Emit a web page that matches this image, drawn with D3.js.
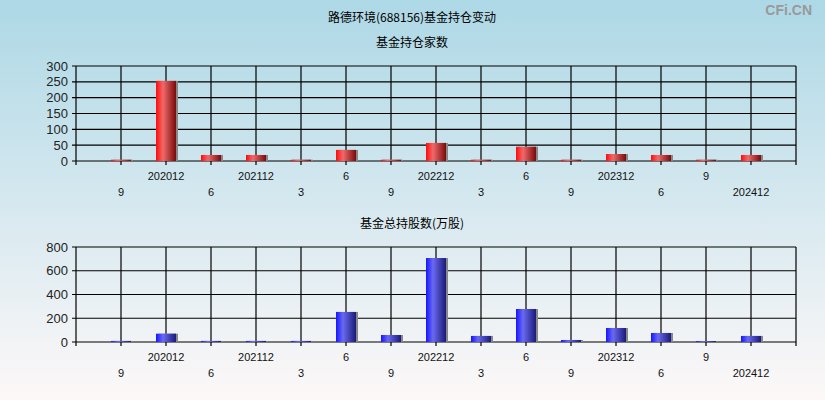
<!DOCTYPE html>
<html><head><meta charset="utf-8">
<script src="https://cdn.jsdelivr.net/npm/d3@7"></script>
<style>body{margin:0;padding:0;}svg{display:block;}</style>
</head><body>
<svg id="c" width="825" height="400"></svg>
<script>
const labelsRow1 = ["", "202012", "", "202112", "", "6", "", "202212", "", "6", "", "202312", "", "9", ""];
const labelsRow2 = ["9", "", "6", "", "3", "", "9", "", "3", "", "9", "", "6", "", "202412"];
const fundCount = [4, 253, 19, 19, 4, 35, 4, 57, 4, 45, 4, 22, 19, 4, 19];
const fundShares = [9, 70, 9, 9, 9, 253, 59, 707, 51, 278, 17, 118, 76, 8, 51];
const countTicks = [0, 50, 100, 150, 200, 250, 300];
const shareTicks = [0, 200, 400, 600, 800];

const svg = d3.select("#c");
const defs = svg.append("defs");
const bg = defs.append("linearGradient").attr("id","bg").attr("x1",0).attr("y1",0).attr("x2",0).attr("y2",1);
bg.append("stop").attr("offset","0%").attr("stop-color","#add8e6");
bg.append("stop").attr("offset","100%").attr("stop-color","#fdf8f8");
function barGrad(id, c1, c2, c3){
  const g = defs.append("linearGradient").attr("id",id).attr("x1",0).attr("y1",0).attr("x2",1).attr("y2",0);
  g.append("stop").attr("offset","0%").attr("stop-color",c1);
  g.append("stop").attr("offset","35%").attr("stop-color",c2);
  g.append("stop").attr("offset","100%").attr("stop-color",c3);
}
barGrad("red","#ff0a0a","#f06a6a","#7a0a0a");
barGrad("blue","#1515ff","#6a6af0","#1a1a7a");
svg.append("rect").attr("width",825).attr("height",400).attr("fill","url(#bg)");

const font = "'Noto Sans CJK SC', sans-serif";
svg.append("text").attr("x",412).attr("y",22).attr("text-anchor","middle").attr("font-family",font).attr("font-size",12).text("路德环境(688156)基金持仓变动");
svg.append("text").attr("x",812).attr("y",15).attr("text-anchor","end").attr("font-family","'Liberation Sans', Arial, sans-serif").attr("font-weight","bold").attr("font-size",14).attr("fill","#999").text("CFi.CN");

const x = d3.scaleLinear().domain([0,16]).range([76,796]);

function panel(title, titleY, top, bottom, maxV, ticks, data, grad){
  svg.append("text").attr("x",412).attr("y",titleY).attr("text-anchor","middle").attr("font-family",font).attr("font-size",12).text(title);
  const y = d3.scaleLinear().domain([0,maxV]).range([bottom, top]);
  const g = svg.append("g");
  g.selectAll("line.h").data(ticks).enter().append("line")
    .attr("x1",x(0)-4).attr("x2",x(16)).attr("y1",d=>y(d)).attr("y2",d=>y(d))
    .attr("stroke","#000").attr("stroke-width",1.2);
  g.selectAll("line.v").data(d3.range(17)).enter().append("line")
    .attr("x1",d=>x(d)).attr("x2",d=>x(d)).attr("y1",top).attr("y2",bottom+4)
    .attr("stroke","#000").attr("stroke-width",1.2);
  g.selectAll("text.yt").data(ticks).enter().append("text")
    .attr("x",x(0)-8).attr("y",d=>y(d)+4.5).attr("text-anchor","end")
    .attr("font-family","'Liberation Sans', Arial, sans-serif").attr("font-size",13).attr("fill","#222")
    .text(d=>d);
  const bw = 20;
  g.selectAll("rect.s").data(data).enter().append("rect")
    .attr("x",(d,i)=>x(i+1)-bw/2+2).attr("width",bw).attr("y",d=>y(d)).attr("height",d=>bottom-y(d)).attr("fill","#888");
  g.selectAll("rect.b").data(data).enter().append("rect")
    .attr("x",(d,i)=>x(i+1)-bw/2).attr("width",bw).attr("y",d=>y(d)).attr("height",d=>bottom-y(d)).attr("fill","url(#"+grad+")");
  g.selectAll("text.r1").data(labelsRow1).enter().append("text")
    .attr("x",(d,i)=>x(i+1)).attr("y",bottom+19).attr("text-anchor","middle")
    .attr("font-family","'Liberation Sans', Arial, sans-serif").attr("font-size",11).attr("fill","#111").text(d=>d);
  g.selectAll("text.r2").data(labelsRow2).enter().append("text")
    .attr("x",(d,i)=>x(i+1)).attr("y",bottom+35).attr("text-anchor","middle")
    .attr("font-family","'Liberation Sans', Arial, sans-serif").attr("font-size",11).attr("fill","#111").text(d=>d);
}
panel("基金持仓家数", 47, 66, 161, 300, countTicks, fundCount, "red");
panel("基金总持股数(万股)", 228, 247, 342, 800, shareTicks, fundShares, "blue");
</script>
</body></html>
